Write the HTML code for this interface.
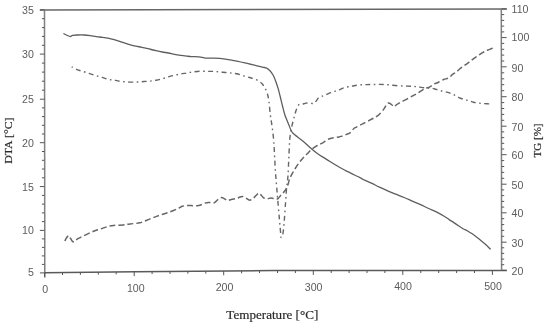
<!DOCTYPE html>
<html><head><meta charset="utf-8"><style>
html,body{margin:0;padding:0;background:#fff;}
svg{display:block;filter:blur(0.4px);}
</style></head><body>
<svg width="550" height="326" viewBox="0 0 550 326">
<rect width="550" height="326" fill="#fff"/>
<line x1="39.8" y1="9.9" x2="506.8" y2="8.9" stroke="#666666" stroke-width="1.5"/>
<line x1="44.5" y1="9.9" x2="44.8" y2="277.4" stroke="#808080" stroke-width="1.5"/>
<polyline points="44.5,272.8 135,271.8 275,270.6 506.8,270.6" stroke="#5a5a5a" stroke-width="1.5" fill="none"/>
<line x1="501.3" y1="8.9" x2="501.6" y2="270.6" stroke="#808080" stroke-width="1.5"/>
<path d="M41.9,264.4H44.5 M41.9,255.9H44.5 M41.9,247.4H44.5 M41.9,238.9H44.5 M41.9,221.6H44.5 M41.9,212.9H44.5 M41.9,204.1H44.5 M41.9,195.4H44.5 M41.9,177.8H44.5 M41.9,169.0H44.5 M41.9,160.3H44.5 M41.9,151.5H44.5 M41.9,134.0H44.5 M41.9,125.3H44.5 M41.9,116.6H44.5 M41.9,107.9H44.5 M41.9,90.2H44.5 M41.9,81.2H44.5 M41.9,72.1H44.5 M41.9,63.1H44.5 M41.9,45.3H44.5 M41.9,36.4H44.5 M41.9,27.6H44.5 M41.9,18.7H44.5 M39.9,9.9H44.5 M39.9,54.1H44.5 M39.9,99.2H44.5 M39.9,142.7H44.5 M39.9,186.6H44.5 M39.9,230.4H44.5 M39.9,272.9H44.5 M501.6,264.7H504.20000000000005 M501.6,259.1H504.20000000000005 M501.6,253.4H504.20000000000005 M501.6,247.8H504.20000000000005 M501.6,236.3H504.20000000000005 M501.6,230.4H504.20000000000005 M501.6,224.6H504.20000000000005 M501.6,218.7H504.20000000000005 M501.6,207.1H504.20000000000005 M501.6,201.4H504.20000000000005 M501.6,195.6H504.20000000000005 M501.6,189.9H504.20000000000005 M501.6,178.3H504.20000000000005 M501.6,172.4H504.20000000000005 M501.6,166.5H504.20000000000005 M501.6,160.6H504.20000000000005 M501.6,149.0H504.20000000000005 M501.6,143.3H504.20000000000005 M501.6,137.6H504.20000000000005 M501.6,131.9H504.20000000000005 M501.6,120.3H504.20000000000005 M501.6,114.4H504.20000000000005 M501.6,108.5H504.20000000000005 M501.6,102.6H504.20000000000005 M501.6,90.7H504.20000000000005 M501.6,84.7H504.20000000000005 M501.6,78.8H504.20000000000005 M501.6,72.8H504.20000000000005 M501.6,61.0H504.20000000000005 M501.6,55.1H504.20000000000005 M501.6,49.3H504.20000000000005 M501.6,43.4H504.20000000000005 M501.6,31.9H504.20000000000005 M501.6,26.1H504.20000000000005 M501.6,20.4H504.20000000000005 M501.6,14.6H504.20000000000005 M501.6,8.9H506.6 M501.6,37.6H506.6 M501.6,66.8H506.6 M501.6,96.7H506.6 M501.6,126.2H506.6 M501.6,154.7H506.6 M501.6,184.2H506.6 M501.6,212.8H506.6 M501.6,242.2H506.6 M501.6,270.3H506.6 M44.6,272.8V277.1 M62.5,272.6V275.0 M80.4,272.4V274.8 M98.3,272.2V274.6 M116.2,272.0V274.4 M134.2,271.8V276.1 M152.1,271.7V274.1 M170.0,271.5V273.9 M187.9,271.3V273.7 M205.8,271.2V273.6 M223.7,271.0V275.3 M241.6,270.9V273.3 M259.5,270.7V273.1 M277.5,270.6V273.0 M295.4,270.6V273.0 M313.3,270.6V274.9 M331.2,270.6V273.0 M349.1,270.6V273.0 M367.0,270.6V273.0 M384.9,270.6V273.0 M402.8,270.6V274.9 M420.8,270.6V273.0 M438.7,270.6V273.0 M456.6,270.6V273.0 M474.5,270.6V273.0 M492.4,270.6V274.9" stroke="#555555" stroke-width="1" fill="none"/>
<path d="M63.40,33.50 C63.90,33.75 65.25,34.48 66.40,35.00 C67.55,35.52 69.27,36.55 70.30,36.60 C71.33,36.65 71.33,35.57 72.60,35.30 C73.87,35.03 75.98,35.05 77.90,35.00 C79.82,34.95 82.05,34.90 84.10,35.00 C86.15,35.10 88.17,35.33 90.20,35.60 C92.23,35.87 94.25,36.32 96.30,36.60 C98.35,36.88 100.55,37.05 102.50,37.30 C104.45,37.55 106.57,37.83 108.00,38.10 C109.43,38.37 109.55,38.47 111.10,38.90 C112.65,39.33 115.25,40.08 117.30,40.70 C119.35,41.32 121.37,41.95 123.40,42.60 C125.43,43.25 127.45,44.02 129.50,44.60 C131.55,45.18 133.65,45.65 135.70,46.10 C137.75,46.55 139.77,46.87 141.80,47.30 C143.83,47.73 145.52,48.13 147.90,48.70 C150.28,49.27 153.70,50.15 156.10,50.70 C158.50,51.25 160.25,51.62 162.30,52.00 C164.35,52.38 166.37,52.62 168.40,53.00 C170.43,53.38 172.45,53.92 174.50,54.30 C176.55,54.68 178.65,55.00 180.70,55.30 C182.75,55.60 185.02,55.88 186.80,56.10 C188.58,56.32 189.37,56.48 191.40,56.60 C193.43,56.72 196.62,56.55 199.00,56.80 C201.38,57.05 203.30,57.88 205.70,58.10 C208.10,58.32 211.10,58.05 213.40,58.10 C215.70,58.15 217.45,58.22 219.50,58.40 C221.55,58.58 223.65,58.90 225.70,59.20 C227.75,59.50 229.77,59.85 231.80,60.20 C233.83,60.55 235.73,60.87 237.90,61.30 C240.07,61.73 242.83,62.35 244.80,62.80 C246.77,63.25 248.07,63.60 249.70,64.00 C251.33,64.40 252.97,64.80 254.60,65.20 C256.23,65.60 257.87,66.02 259.50,66.40 C261.13,66.78 263.07,67.13 264.40,67.50 C265.73,67.87 266.57,68.05 267.50,68.60 C268.43,69.15 269.28,70.03 270.00,70.80 C270.72,71.57 271.18,72.28 271.80,73.20 C272.42,74.12 273.03,74.92 273.70,76.30 C274.37,77.68 275.07,79.48 275.80,81.50 C276.53,83.52 277.37,85.90 278.10,88.40 C278.83,90.90 279.47,93.57 280.20,96.50 C280.93,99.43 281.70,102.87 282.50,106.00 C283.30,109.13 284.07,112.47 285.00,115.30 C285.93,118.13 287.08,120.47 288.10,123.00 C289.12,125.53 290.28,128.78 291.10,130.50 C291.92,132.22 291.97,132.25 293.00,133.30 C294.03,134.35 295.57,135.45 297.30,136.80 C299.03,138.15 301.28,139.62 303.40,141.40 C305.52,143.18 307.62,145.43 310.00,147.50 C312.38,149.57 315.40,152.12 317.70,153.80 C320.00,155.48 321.77,156.32 323.80,157.60 C325.83,158.88 327.85,160.22 329.90,161.50 C331.95,162.78 334.05,164.08 336.10,165.30 C338.15,166.52 340.17,167.70 342.20,168.80 C344.23,169.90 346.25,170.87 348.30,171.90 C350.35,172.93 352.55,174.05 354.50,175.00 C356.45,175.95 358.55,176.85 360.00,177.60 C361.45,178.35 361.30,178.58 363.20,179.50 C365.10,180.42 368.68,181.82 371.40,183.10 C374.12,184.38 376.78,185.90 379.50,187.20 C382.22,188.50 384.97,189.73 387.70,190.90 C390.43,192.07 393.17,193.10 395.90,194.20 C398.63,195.30 401.37,196.35 404.10,197.50 C406.83,198.65 409.57,199.90 412.30,201.10 C415.03,202.30 417.78,203.47 420.50,204.70 C423.22,205.93 425.88,207.25 428.60,208.50 C431.32,209.75 434.13,210.87 436.80,212.20 C439.47,213.53 442.53,215.27 444.60,216.50 C446.67,217.73 447.67,218.58 449.20,219.60 C450.73,220.62 452.27,221.58 453.80,222.60 C455.33,223.62 456.87,224.68 458.40,225.70 C459.93,226.72 461.47,227.82 463.00,228.70 C464.53,229.58 466.07,230.15 467.60,231.00 C469.13,231.85 470.67,232.77 472.20,233.80 C473.73,234.83 475.27,236.00 476.80,237.20 C478.33,238.40 479.87,239.73 481.40,241.00 C482.93,242.27 484.47,243.40 486.00,244.80 C487.53,246.20 489.83,248.63 490.60,249.40" stroke="#5e5e5e" stroke-width="1.3" fill="none" stroke-linejoin="round"/>
<path d="M71.70,66.90 C72.58,67.35 75.30,68.90 77.00,69.60 C78.70,70.30 79.90,70.47 81.90,71.10 C83.90,71.73 86.83,72.70 89.00,73.40 C91.17,74.10 92.73,74.63 94.90,75.30 C97.07,75.97 99.68,76.72 102.00,77.40 C104.32,78.08 106.53,78.90 108.80,79.40 C111.07,79.90 113.47,80.05 115.60,80.40 C117.73,80.75 119.28,81.22 121.60,81.50 C123.92,81.78 126.87,82.02 129.50,82.10 C132.13,82.18 134.98,82.10 137.40,82.00 C139.82,81.90 141.90,81.65 144.00,81.50 C146.10,81.35 147.98,81.32 150.00,81.10 C152.02,80.88 154.05,80.58 156.10,80.20 C158.15,79.82 160.25,79.37 162.30,78.80 C164.35,78.23 166.37,77.38 168.40,76.80 C170.43,76.22 172.45,75.77 174.50,75.30 C176.55,74.83 178.65,74.38 180.70,74.00 C182.75,73.62 184.77,73.35 186.80,73.00 C188.83,72.65 190.70,72.20 192.90,71.90 C195.10,71.60 197.60,71.28 200.00,71.20 C202.40,71.12 205.07,71.37 207.30,71.40 C209.53,71.43 211.37,71.32 213.40,71.40 C215.43,71.48 217.45,71.72 219.50,71.90 C221.55,72.08 223.65,72.30 225.70,72.50 C227.75,72.70 229.77,72.85 231.80,73.10 C233.83,73.35 235.73,73.48 237.90,74.00 C240.07,74.52 242.83,75.62 244.80,76.20 C246.77,76.78 248.07,77.02 249.70,77.50 C251.33,77.98 252.97,78.42 254.60,79.10 C256.23,79.78 258.18,80.73 259.50,81.60 C260.82,82.47 261.57,83.17 262.50,84.30 C263.43,85.43 264.28,86.83 265.10,88.40 C265.92,89.97 266.77,91.53 267.40,93.70 C268.03,95.87 268.40,97.80 268.90,101.40 C269.40,105.00 269.88,111.20 270.40,115.30 C270.92,119.40 271.48,122.17 272.00,126.00 C272.52,129.83 273.12,134.30 273.50,138.30 C273.88,142.30 274.00,144.72 274.30,150.00 C274.60,155.28 274.93,164.22 275.30,170.00 C275.67,175.78 276.10,179.80 276.50,184.70 C276.90,189.60 277.22,193.67 277.70,199.40 C278.18,205.13 278.90,213.37 279.40,219.10 C279.90,224.83 280.40,230.73 280.70,233.80 C281.00,236.87 280.80,237.70 281.20,237.50 C281.60,237.30 282.57,235.67 283.10,232.60 C283.63,229.53 283.98,224.22 284.40,219.10 C284.82,213.98 285.23,207.08 285.60,201.90 C285.97,196.72 286.22,192.18 286.60,188.00 C286.98,183.82 287.53,181.73 287.90,176.80 C288.27,171.87 288.50,164.53 288.80,158.40 C289.10,152.27 289.40,144.23 289.70,140.00 C290.00,135.77 290.23,135.33 290.60,133.00 C290.97,130.67 291.30,128.68 291.90,126.00 C292.50,123.32 293.43,119.70 294.20,116.90 C294.97,114.10 295.73,111.22 296.50,109.20 C297.27,107.18 297.83,105.63 298.80,104.80 C299.77,103.97 301.08,104.48 302.30,104.20 C303.52,103.92 304.82,103.25 306.10,103.10 C307.38,102.95 308.72,103.27 310.00,103.30 C311.28,103.33 312.78,103.67 313.80,103.30 C314.82,102.93 315.33,101.98 316.10,101.10 C316.87,100.22 317.50,98.77 318.40,98.00 C319.30,97.23 320.35,97.00 321.50,96.50 C322.65,96.00 323.77,95.65 325.30,95.00 C326.83,94.35 329.03,93.25 330.70,92.60 C332.37,91.95 333.77,91.60 335.30,91.10 C336.83,90.60 338.37,90.18 339.90,89.60 C341.43,89.02 342.88,88.12 344.50,87.60 C346.12,87.08 347.98,86.82 349.60,86.50 C351.22,86.18 352.42,85.97 354.20,85.70 C355.98,85.43 358.25,85.08 360.30,84.90 C362.35,84.72 364.45,84.67 366.50,84.60 C368.55,84.53 370.35,84.53 372.60,84.50 C374.85,84.47 377.40,84.35 380.00,84.40 C382.60,84.45 385.27,84.58 388.20,84.80 C391.13,85.02 394.50,85.48 397.60,85.70 C400.70,85.92 404.22,85.98 406.80,86.10 C409.38,86.22 411.28,86.28 413.10,86.40 C414.92,86.52 416.17,86.60 417.70,86.80 C419.23,87.00 420.77,87.42 422.30,87.60 C423.83,87.78 425.37,87.80 426.90,87.90 C428.43,88.00 429.97,87.95 431.50,88.20 C433.03,88.45 434.57,88.98 436.10,89.40 C437.63,89.82 438.92,90.23 440.70,90.70 C442.48,91.17 445.02,91.70 446.80,92.20 C448.58,92.70 450.03,93.18 451.40,93.70 C452.77,94.22 453.63,94.62 455.00,95.30 C456.37,95.98 458.07,97.10 459.60,97.80 C461.13,98.50 462.67,99.02 464.20,99.50 C465.73,99.98 467.27,100.25 468.80,100.70 C470.33,101.15 471.87,101.82 473.40,102.20 C474.93,102.58 476.47,102.78 478.00,103.00 C479.53,103.22 481.07,103.37 482.60,103.50 C484.13,103.63 485.67,103.70 487.20,103.80 C488.73,103.90 491.03,104.05 491.80,104.10" stroke="#666666" stroke-width="1.4" fill="none" stroke-dasharray="5 3.5 1.6 3.4" stroke-dashoffset="8.7" stroke-linejoin="round"/>
<path d="M64.90,241.00 C65.15,240.50 65.77,238.88 66.40,238.00 C67.03,237.12 68.05,235.70 68.70,235.70 C69.35,235.70 69.65,237.03 70.30,238.00 C70.95,238.97 71.83,241.00 72.60,241.50 C73.37,242.00 74.02,241.47 74.90,241.00 C75.78,240.53 76.63,239.47 77.90,238.70 C79.17,237.93 80.70,237.28 82.50,236.40 C84.30,235.52 86.65,234.33 88.70,233.40 C90.75,232.47 92.77,231.57 94.80,230.80 C96.83,230.03 98.70,229.52 100.90,228.80 C103.10,228.08 105.85,227.07 108.00,226.50 C110.15,225.93 111.20,225.67 113.80,225.40 C116.40,225.13 120.90,225.15 123.60,224.90 C126.30,224.65 127.30,224.25 130.00,223.90 C132.70,223.55 136.53,223.60 139.80,222.80 C143.07,222.00 146.33,220.33 149.60,219.10 C152.87,217.87 156.12,216.55 159.40,215.40 C162.68,214.25 166.02,213.43 169.30,212.20 C172.58,210.97 176.95,208.98 179.10,208.00 C181.25,207.02 180.97,206.70 182.20,206.30 C183.43,205.90 185.05,205.72 186.50,205.60 C187.95,205.48 188.90,205.60 190.90,205.60 C192.90,205.60 196.13,206.02 198.50,205.60 C200.87,205.18 203.45,203.63 205.10,203.10 C206.75,202.57 206.95,202.43 208.40,202.40 C209.85,202.37 212.53,203.08 213.80,202.90 C215.07,202.72 215.08,202.07 216.00,201.30 C216.92,200.53 218.22,198.90 219.30,198.30 C220.38,197.70 221.42,197.48 222.50,197.70 C223.58,197.92 224.88,199.15 225.80,199.60 C226.72,200.05 227.08,200.43 228.00,200.40 C228.92,200.37 229.85,199.72 231.30,199.40 C232.75,199.08 235.35,198.87 236.70,198.50 C238.05,198.13 238.42,197.55 239.40,197.20 C240.38,196.85 241.52,196.27 242.60,196.40 C243.68,196.53 244.72,197.37 245.90,198.00 C247.08,198.63 248.43,200.20 249.70,200.20 C250.97,200.20 252.32,198.92 253.50,198.00 C254.68,197.08 255.88,195.52 256.80,194.70 C257.72,193.88 258.18,192.92 259.00,193.10 C259.82,193.28 260.88,194.98 261.70,195.80 C262.52,196.62 262.90,197.50 263.90,198.00 C264.90,198.50 266.52,198.80 267.70,198.80 C268.88,198.80 269.73,198.00 271.00,198.00 C272.27,198.00 274.12,198.72 275.30,198.80 C276.48,198.88 277.18,199.08 278.10,198.50 C279.02,197.92 279.90,196.30 280.80,195.30 C281.70,194.30 282.58,193.60 283.50,192.50 C284.42,191.40 285.52,190.12 286.30,188.70 C287.08,187.28 287.63,185.68 288.20,184.00 C288.77,182.32 288.98,180.42 289.70,178.60 C290.42,176.78 291.58,174.78 292.50,173.10 C293.42,171.42 294.13,170.18 295.20,168.50 C296.27,166.82 297.67,164.68 298.90,163.00 C300.13,161.32 301.22,159.93 302.60,158.40 C303.98,156.87 305.67,155.33 307.20,153.80 C308.73,152.27 310.12,150.58 311.80,149.20 C313.48,147.82 315.47,146.57 317.30,145.50 C319.13,144.43 320.75,143.93 322.80,142.80 C324.85,141.67 327.18,139.63 329.60,138.70 C332.02,137.77 335.38,137.58 337.30,137.20 C339.22,136.82 339.57,136.87 341.10,136.40 C342.63,135.93 344.97,135.03 346.50,134.40 C348.03,133.77 349.03,133.62 350.30,132.60 C351.57,131.58 353.08,129.20 354.10,128.30 C355.12,127.40 355.25,127.82 356.40,127.20 C357.55,126.58 359.72,125.28 361.00,124.60 C362.28,123.92 362.57,123.88 364.10,123.10 C365.63,122.32 368.45,120.82 370.20,119.90 C371.95,118.98 373.10,118.50 374.60,117.60 C376.10,116.70 377.67,115.92 379.20,114.50 C380.73,113.08 382.65,110.63 383.80,109.10 C384.95,107.57 385.33,106.32 386.10,105.30 C386.87,104.28 387.50,103.13 388.40,103.00 C389.30,102.87 390.60,103.87 391.50,104.50 C392.40,105.13 392.92,106.80 393.80,106.80 C394.68,106.80 395.65,105.27 396.80,104.50 C397.95,103.73 399.03,103.08 400.70,102.20 C402.37,101.32 404.73,100.30 406.80,99.20 C408.87,98.10 411.42,96.52 413.10,95.60 C414.78,94.68 415.50,94.52 416.90,93.70 C418.30,92.88 420.10,91.58 421.50,90.70 C422.90,89.82 423.90,89.05 425.30,88.40 C426.70,87.75 428.37,87.57 429.90,86.80 C431.43,86.03 433.22,84.48 434.50,83.80 C435.78,83.12 436.07,83.42 437.60,82.70 C439.13,81.98 441.92,80.27 443.70,79.50 C445.48,78.73 446.77,79.00 448.30,78.10 C449.83,77.20 451.62,75.07 452.90,74.10 C454.18,73.13 454.88,73.15 456.00,72.30 C457.12,71.45 458.23,70.10 459.60,69.00 C460.97,67.90 462.67,66.82 464.20,65.70 C465.73,64.58 467.27,63.45 468.80,62.30 C470.33,61.15 471.87,59.90 473.40,58.80 C474.93,57.70 476.47,56.73 478.00,55.70 C479.53,54.67 481.07,53.50 482.60,52.60 C484.13,51.70 485.67,50.98 487.20,50.30 C488.73,49.62 490.57,49.00 491.80,48.50 C493.03,48.00 494.13,47.50 494.60,47.30" stroke="#666666" stroke-width="1.5" fill="none" stroke-dasharray="6 3" stroke-linejoin="round"/>
<g font-family="Liberation Sans, sans-serif" font-size="10.6" fill="#5c5c5c"><text x="33.8" y="13.65" text-anchor="end">35</text><text x="33.8" y="58.05" text-anchor="end">30</text><text x="33.8" y="102.85" text-anchor="end">25</text><text x="33.8" y="147.15" text-anchor="end">20</text><text x="33.8" y="190.75" text-anchor="end">15</text><text x="33.8" y="234.35" text-anchor="end">10</text><text x="33.8" y="276.45" text-anchor="end">5</text><text x="511.6" y="12.85">110</text><text x="511.6" y="41.05">100</text><text x="511.6" y="71.65">90</text><text x="511.6" y="101.05">80</text><text x="511.6" y="130.55">70</text><text x="511.6" y="159.05">60</text><text x="511.6" y="188.55">50</text><text x="511.6" y="217.15">40</text><text x="511.6" y="246.85">30</text><text x="511.6" y="274.55">20</text><text x="45.20" y="292.60" text-anchor="middle">0</text><text x="135.75" y="291.70" text-anchor="middle">100</text><text x="224.50" y="290.70" text-anchor="middle">200</text><text x="313.60" y="290.85" text-anchor="middle">300</text><text x="403.00" y="290.40" text-anchor="middle">400</text><text x="493.00" y="290.40" text-anchor="middle">500</text></g>
<g font-family="Liberation Serif, serif" fill="#2a2a2a" stroke="#2a2a2a" stroke-width="0.2"><text x="226.3" y="319" font-size="13.4" textLength="92" lengthAdjust="spacingAndGlyphs">Temperature [°C]</text><text transform="translate(11.8,163.8) rotate(-90)" font-size="11.2" textLength="46.3" lengthAdjust="spacingAndGlyphs">DTA [°C]</text><text transform="translate(541.3,157.5) rotate(-90)" font-size="11" textLength="34" lengthAdjust="spacingAndGlyphs">TG [%]</text></g>
</svg>
</body></html>
